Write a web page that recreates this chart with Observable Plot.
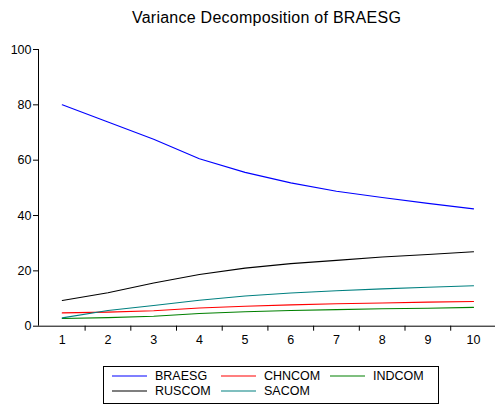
<!DOCTYPE html>
<html>
<head>
<meta charset="utf-8">
<script src="https://cdn.jsdelivr.net/npm/d3@7"></script>
<script src="https://cdn.jsdelivr.net/npm/@observablehq/plot@0.6"></script>
<style>
  body { margin: 0; background: #fff; font-family: "Liberation Sans", Arial, sans-serif; }
  #wrap { position: relative; width: 495px; height: 406px; }
  #title { position: absolute; left: 38px; width: 457px; top: 9px; text-align: center; font-size: 16px; letter-spacing: 0.25px; color: #000; }
  #chart { position: absolute; left: 0; top: 36px; }
  #legend { position: absolute; left: 103px; top: 366px; width: 336px; height: 38px; border: 1px solid #000; box-sizing: border-box; font-size: 12.5px; color: #000; }
  .item { position: absolute; display: flex; align-items: center; height: 15px; }
  .item svg { margin-right: 8px; display: block; }
</style>
</head>
<body>
<div id="wrap">
  <div id="title">Variance Decomposition of BRAESG</div>
  <div id="chart"></div>
  <div id="legend"></div>
</div>
<script>
const periods = [1, 2, 3, 4, 5, 6, 7, 8, 9, 10];
const BRAESG = [80.0, 73.8, 67.6, 60.5, 55.6, 51.8, 48.8, 46.5, 44.4, 42.4];
const CHNCOM = [4.8, 5.1, 5.6, 6.6, 7.2, 7.7, 8.1, 8.4, 8.7, 8.9];
const INDCOM = [2.8, 3.1, 3.6, 4.6, 5.2, 5.7, 6.0, 6.3, 6.5, 6.8];
const RUSCOM = [9.3, 12.1, 15.6, 18.7, 21.0, 22.6, 23.8, 25.0, 25.9, 26.9];
const SACOM = [3.0, 5.7, 7.5, 9.4, 10.9, 12.0, 12.8, 13.5, 14.1, 14.6];
const seriesNames = ["BRAESG", "CHNCOM", "INDCOM", "RUSCOM", "SACOM"];
const seriesColors = ["#0000ff", "#ff0000", "#008000", "#000000", "#008080"];
const yTicks = [0, 20, 40, 60, 80, 100];
const xMidTicks = [1.5, 2.5, 3.5, 4.5, 5.5, 6.5, 7.5, 8.5, 9.5];

const seriesValues = { BRAESG, CHNCOM, INDCOM, RUSCOM, SACOM };
const data = seriesNames.flatMap(name => periods.map((p, i) => ({ series: name, period: p, value: seriesValues[name][i] })));

const plot = Plot.plot({
  width: 495,
  height: 330,
  marginTop: 13,
  marginBottom: 40.3,
  marginLeft: 38,
  marginRight: 0,
  style: { fontFamily: "Liberation Sans, Arial, sans-serif", fontSize: "12.5px", color: "#000", background: "#fff" },
  x: { type: "linear", domain: [0.48, 10.48] },
  y: { domain: [0, 100] },
  color: { domain: seriesNames, range: seriesColors },
  marks: [
    Plot.axisY(yTicks, { tickSize: 5, tickPadding: 2, fontSize: 12.5, label: null }),
    Plot.axisX(periods, { tickSize: 0, tickPadding: 9, fontSize: 12.5, label: null }),
    Plot.axisX(xMidTicks, { tickSize: 5, text: null, label: null }),
    Plot.ruleX([0.48], { stroke: "#000" }),
    Plot.ruleY([0], { stroke: "#000" }),
    Plot.line(data, { x: "period", y: "value", z: "series", stroke: "series", strokeWidth: 1.1 })
  ]
});
document.getElementById("chart").appendChild(plot);

const legend = document.getElementById("legend");
const positions = [[8, 1], [117, 1], [226, 1], [8, 16], [117, 16]];
const svgNS = "http://www.w3.org/2000/svg";
seriesNames.forEach((name, i) => {
  const d = document.createElement("div");
  d.className = "item";
  d.style.left = positions[i][0] + "px";
  d.style.top = positions[i][1] + "px";
  const sw = document.createElementNS(svgNS, "svg");
  sw.setAttribute("width", "35");
  sw.setAttribute("height", "15");
  const ln = document.createElementNS(svgNS, "line");
  ln.setAttribute("x1", "0");
  ln.setAttribute("x2", "35");
  ln.setAttribute("y1", "8");
  ln.setAttribute("y2", "8");
  ln.setAttribute("stroke", seriesColors[i]);
  ln.setAttribute("stroke-width", "1.2");
  sw.appendChild(ln);
  const label = document.createElement("span");
  label.textContent = name;
  d.appendChild(sw);
  d.appendChild(label);
  legend.appendChild(d);
});
</script>
</body>
</html>
